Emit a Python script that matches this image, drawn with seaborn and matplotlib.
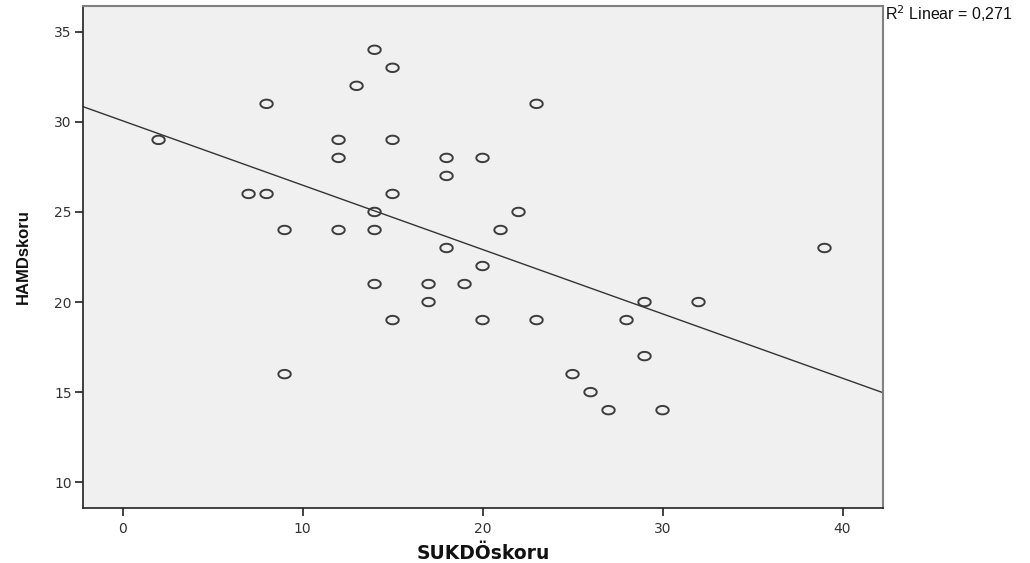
import numpy as np
import pandas as pd
import matplotlib
matplotlib.use("Agg")
import matplotlib.pyplot as plt
from matplotlib.path import Path
import seaborn as sns

# SUKDO score vs HAMD score, one point per subject
sukdo_skoru = [2, 7, 8, 8, 9, 9, 12, 12, 12, 13, 14, 14, 14, 14, 15, 15, 15, 15,
               17, 17, 18, 18, 18, 19, 20, 20, 20, 21, 22, 23, 23, 25, 26, 27,
               28, 29, 29, 30, 32, 39]
hamd_skoru = [29, 26, 26, 31, 24, 16, 29, 28, 24, 32, 34, 25, 24, 21, 33, 29, 26, 19,
              21, 20, 28, 27, 23, 21, 28, 22, 19, 24, 25, 31, 19, 16, 15, 14,
              19, 20, 17, 14, 20, 23]
x_ticks = [0, 10, 20, 30, 40]
y_ticks = [10, 15, 20, 25, 30, 35]
r2_text = "R$^2$ Linear = 0,271"

df = pd.DataFrame({"SUKDÖskoru": sukdo_skoru, "HAMDskoru": hamd_skoru})

sns.set_style("white")
plt.rcParams["font.family"] = ["DejaVu Sans"]

fig = plt.figure(figsize=(10.3, 5.63), dpi=100)
ax = fig.add_axes([83 / 1030, 1 - 508 / 563, 800 / 1030, 502 / 563])
ax.set_facecolor("#f0f0f0")
ax.set_xlim(-2.2, 42.25)
ax.set_ylim(8.57, 36.43)

# SPSS style slightly flattened circle
t = np.linspace(0, 2 * np.pi, 60)
ellipse = Path(np.column_stack([np.cos(t), 0.68 * np.sin(t)]))

sns.regplot(data=df, x="SUKDÖskoru", y="HAMDskoru", ax=ax, scatter=False,
            ci=None, truncate=False, line_kws={"color": "#333333", "lw": 1.0})
sns.scatterplot(data=df, x="SUKDÖskoru", y="HAMDskoru", ax=ax, marker=ellipse,
                s=80, facecolor="none", edgecolor="#3c3c3c", linewidth=1.4,
                zorder=3)

ax.set_xticks(x_ticks)
ax.set_yticks(y_ticks)
ax.tick_params(axis="both", direction="out", length=6, width=1.2, color="#222222",
               labelsize=10, labelcolor="#333333", left=True, bottom=True)
ax.tick_params(axis="x", pad=4)
ax.tick_params(axis="y", pad=2)

for side in ["left", "bottom"]:
    ax.spines[side].set_color("#222222")
    ax.spines[side].set_linewidth(1.2)
for side in ["top", "right"]:
    ax.spines[side].set_color("#808080")
    ax.spines[side].set_linewidth(1.5)

ax.set_xlabel("SUKDÖskoru", fontsize=13.5, fontweight="bold", labelpad=6,
              color="#111111")
ax.set_ylabel("HAMDskoru", fontsize=12, fontweight="bold", color="#111111",
              family=["Liberation Sans"], labelpad=17)

fig.text(885 / 1030, 1 - 14 / 563, r2_text, fontsize=11.5, va="center", ha="left",
         family=["Liberation Sans"], color="#111111")

fig.savefig("out.png", dpi=100)
